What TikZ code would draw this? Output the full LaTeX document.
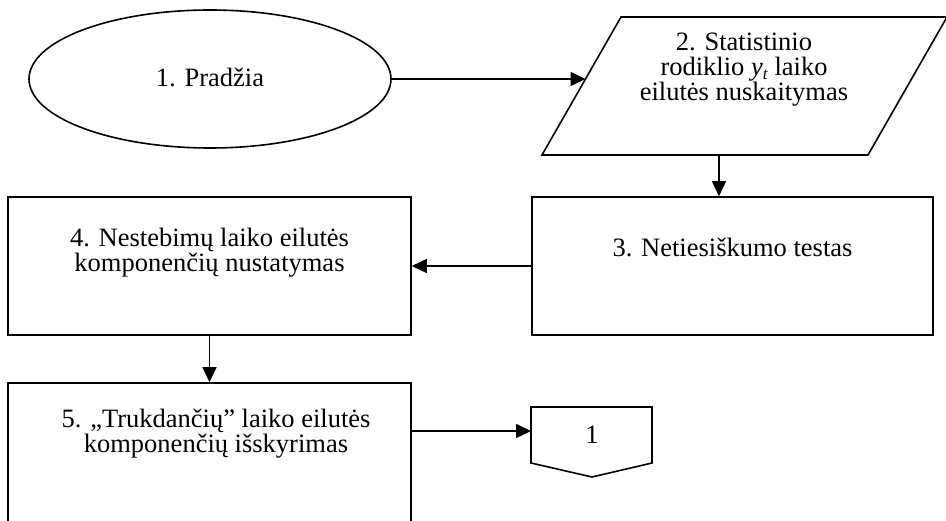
\documentclass[tikz,border=0pt]{standalone}
\usepackage{fontspec}
\setmainfont{Liberation Serif}
\usetikzlibrary{shapes.geometric,arrows.meta,calc}

\begin{document}
\begin{tikzpicture}[x=1pt,y=-1pt,
  line width=1.6pt,
  arr/.style={-{Triangle[length=15pt,width=14pt]}, line width=1.6pt},
  lbl/.style={font=\fontsize{26.5}{25}\selectfont, align=center, inner sep=0pt, anchor=base},
  stepbox/.style={draw, rectangle, inner sep=0pt},
  startshape/.style={draw, ellipse, inner sep=0pt, minimum width=362pt, minimum height=138pt},
]
\useasboundingbox (0,0) rectangle (946,521);
\clip (0,0) rectangle (946,521);

% 1. start
\node[startshape] (e1) at (210,79) {};
\node[lbl] (t1) at (210,87) {1. Pradžia};

% 2. input (parallelogram); a multi-line label sits on its last baseline
\coordinate (p2bl) at (542,155);
\coordinate (p2tl) at (621,17);
\coordinate (p2tr) at (947,17);
\coordinate (p2br) at (868,155);
\draw (p2bl) -- (p2tl) -- (p2tr) -- (p2br) -- cycle;
\node[lbl] (t2) at (744,101) {2. Statistinio\\rodiklio \textit{y}\raisebox{-0.3ex}{\fontsize{17}{17}\selectfont\textit{t}} laiko\\eilutės nuskaitymas};
\coordinate (p2in) at ($(p2bl)!0.5507!(p2tl)$);
\coordinate (p2out) at (719,155);

% 3. test
\node[stepbox, minimum width=401pt, minimum height=138pt] (b3) at (732.5,266) {};
\node[lbl] (t3) at (732.5,257) {3. Netiesiškumo testas};

% 4. components
\node[stepbox, minimum width=403pt, minimum height=138pt] (b4) at (209.5,266) {};
\node[lbl] (t4) at (209.5,272) {4. Nestebimų laiko eilutės\\komponenčių nustatymas};

% 5. extraction (continues below)
\node[stepbox, minimum width=403pt, minimum height=200pt] (b5) at (209.5,483) {};
\node[lbl] (t5) at (216,453) {5. „Trukdančių” laiko eilutės\\komponenčių išskyrimas};

% off-page connector
\coordinate (c1a) at (531,407);
\coordinate (c1b) at (652,407);
\coordinate (c1c) at (652,463);
\coordinate (c1d) at (592,477);
\coordinate (c1e) at (531,463);
\draw (c1a) -- (c1b) -- (c1c) -- (c1d) -- (c1e) -- cycle;
\node[lbl] (tc) at (592,443) {1};
\coordinate (c1in) at (531,431);

% connectors
\draw[arr] (e1.east) -- (p2in);
\draw[arr] (p2out) -- (p2out |- b3.north);
\draw[arr] (b3.west) -- (b4.east);
\draw[arr] (b4.south) -- (b5.north);
\draw[arr] (b5.east |- c1in) -- (c1in);
\end{tikzpicture}
\end{document}
